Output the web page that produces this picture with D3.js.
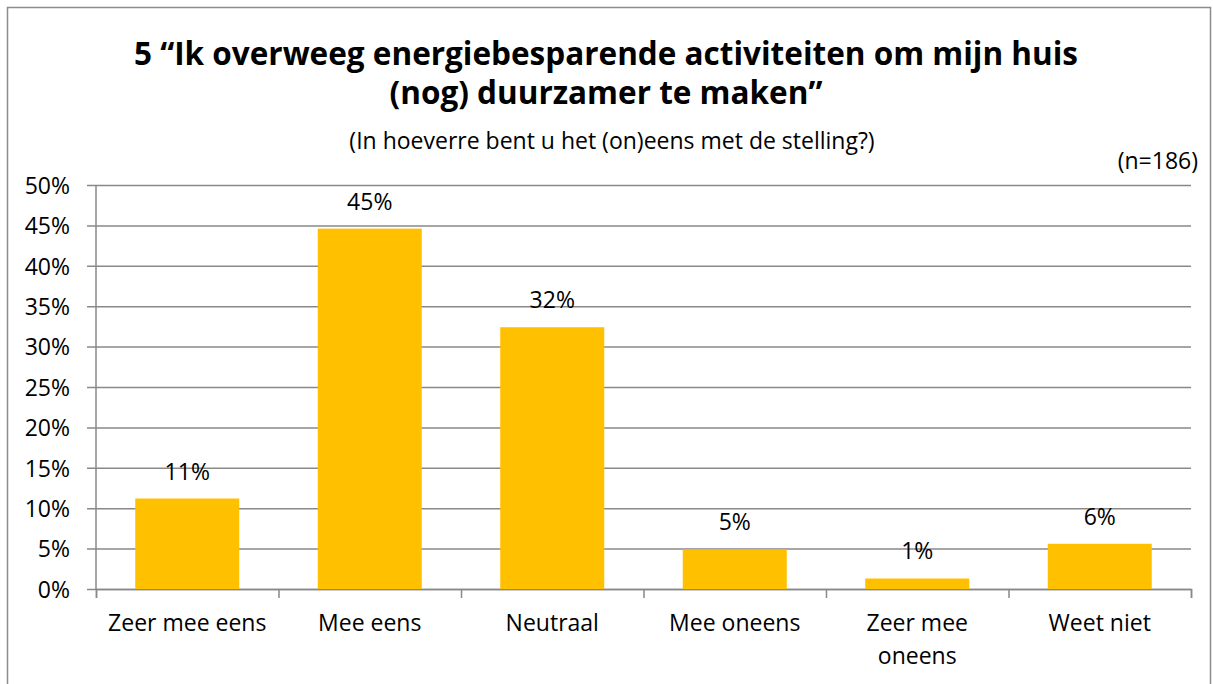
<!DOCTYPE html>
<html>
<head>
<meta charset="utf-8">
<script src="https://cdn.jsdelivr.net/npm/d3@7"></script>
<style>
  body { margin: 0; background: #fff; }
  svg text { font-family: "Open Sans", sans-serif; fill: #000; }
</style>
</head>
<body>
<svg id="chart" width="1213" height="684"></svg>
<script>
// answer categories and share of respondents (%)
var categories = ["Zeer mee eens", "Mee eens", "Neutraal", "Mee oneens", "Zeer mee oneens", "Weet niet"];
var categoryLines = [["Zeer mee eens"], ["Mee eens"], ["Neutraal"], ["Mee oneens"], ["Zeer mee", "oneens"], ["Weet niet"]];
var values = [11.2, 44.6, 32.4, 4.9, 1.3, 5.6];
var valueLabels = ["11%", "45%", "32%", "5%", "1%", "6%"];
var yTicks = [0, 5, 10, 15, 20, 25, 30, 35, 40, 45, 50];

var titleLines = ["5 \u201cIk overweeg energiebesparende activiteiten om mijn huis", "(nog) duurzamer te maken\u201d"];
var subtitle = "(In hoeverre bent u het (on)eens met de stelling?)";
var nLabel = "(n=186)";

var W = 1213, H = 684,
    margin = { top: 185, right: 22, bottom: 95, left: 96 },
    plotW = W - margin.left - margin.right,
    plotH = H - margin.top - margin.bottom,
    gridColor = "#898989",
    barColor = "#FFC000",
    fs = "23px";

var svg = d3.select("#chart");

// outer frame
svg.append("rect")
    .attr("x", 7.5).attr("y", 7.5)
    .attr("width", W - 10).attr("height", H)
    .attr("fill", "none")
    .attr("stroke", "#8c8c8c")
    .attr("stroke-width", 1.5);

svg.selectAll(".title")
    .data(titleLines)
    .enter().append("text")
    .attr("class", "title")
    .attr("x", 606)
    .attr("y", function (d, i) { return 65 + i * 39; })
    .attr("text-anchor", "middle")
    .style("font-size", "31.5px")
    .style("font-weight", "bold")
    .text(function (d) { return d; });

svg.append("text")
    .attr("x", 612).attr("y", 149)
    .attr("text-anchor", "middle")
    .style("font-size", fs)
    .text(subtitle);

svg.append("text")
    .attr("x", 1198).attr("y", 169)
    .attr("text-anchor", "end")
    .style("font-size", fs)
    .text(nLabel);

var g = svg.append("g")
    .attr("transform", "translate(" + margin.left + "," + margin.top + ")");

var x = d3.scaleBand()
    .domain(categories)
    .range([0, plotW])
    .paddingInner(0.43)
    .paddingOuter(0.215);

var y = d3.scaleLinear()
    .domain([0, 50])
    .range([plotH, 0]);

// horizontal gridlines + y axis ticks
var yAxis = g.append("g")
    .call(d3.axisLeft(y)
        .tickValues(yTicks)
        .tickSize(-plotW)
        .tickPadding(26)
        .tickFormat(function (d) { return d + "%"; }));
yAxis.select(".domain").remove();
yAxis.selectAll(".tick line")
    .attr("x1", -9)
    .attr("stroke", gridColor)
    .attr("stroke-width", 1.5);
yAxis.selectAll(".tick text")
    .attr("dy", "0.36em")
    .style("font-size", fs)
    .style("font-family", "'Open Sans', sans-serif");

// y axis line
g.append("line")
    .attr("x1", 0).attr("x2", 0)
    .attr("y1", 0).attr("y2", plotH)
    .attr("stroke", gridColor)
    .attr("stroke-width", 1.5);

// x axis: tick marks at the category boundaries
var xEdge = d3.scaleLinear().domain([0, categories.length]).range([0, plotW]);
g.append("g")
    .attr("transform", "translate(0," + plotH + ")")
    .call(d3.axisBottom(xEdge).ticks(categories.length).tickSize(9).tickFormat(""))
    .call(function (sel) {
        sel.select(".domain").attr("stroke", gridColor).attr("stroke-width", 1.5);
        sel.selectAll(".tick line").attr("stroke", gridColor).attr("stroke-width", 1.5);
    });

// bars
g.selectAll(".bar")
    .data(values)
    .enter().append("rect")
    .attr("class", "bar")
    .attr("x", function (d, i) { return x(categories[i]); })
    .attr("y", function (d) { return y(d); })
    .attr("width", x.bandwidth())
    .attr("height", function (d) { return plotH - y(d); })
    .attr("fill", barColor);

// value labels
g.selectAll(".vlabel")
    .data(values)
    .enter().append("text")
    .attr("class", "vlabel")
    .attr("x", function (d, i) { return x(categories[i]) + x.bandwidth() / 2; })
    .attr("y", function (d) { return y(d) - 19; })
    .attr("text-anchor", "middle")
    .style("font-size", fs)
    .text(function (d, i) { return valueLabels[i]; });

// category labels
var cat = g.selectAll(".clabel")
    .data(categoryLines)
    .enter().append("text")
    .attr("class", "clabel")
    .attr("x", function (d, i) { return x(categories[i]) + x.bandwidth() / 2; })
    .attr("y", plotH + 42)
    .attr("text-anchor", "middle")
    .style("font-size", fs);
cat.selectAll("tspan")
    .data(function (d) { return d; })
    .enter().append("tspan")
    .attr("x", function () { return d3.select(this.parentNode).attr("x"); })
    .attr("dy", function (d, i) { return i === 0 ? 0 : 33; })
    .text(function (d) { return d; });
</script>
</body>
</html>
